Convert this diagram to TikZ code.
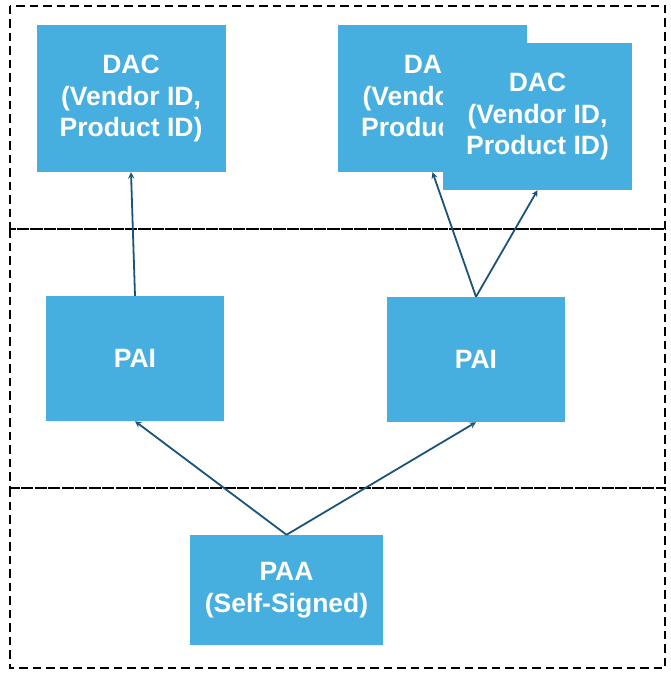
\documentclass[tikz,border=0pt]{standalone}
\usepackage{fontspec}
\setmainfont{Liberation Sans}
\usetikzlibrary{positioning, arrows}
\definecolor{certblue}{HTML}{47AFDF}
\definecolor{linkblue}{HTML}{1B5478}

\begin{document}
\begin{tikzpicture}[
        ->,
        >=stealth,
        x=1pt,
        y=-1pt,
        every node/.style={font=\fontsize{26.5}{31.5}\selectfont\bfseries, text=white, align=center},
        cert/.style={fill=certblue, inner sep=0pt, minimum width=189pt, minimum height=147pt},
        pai/.style={fill=certblue, inner sep=0pt, minimum width=178pt, minimum height=125pt},
        zone/.style={-, black, line width=1.8pt, dash pattern=on 8.5pt off 5pt},
        link/.style={linkblue, line width=1.8pt}
    ]
    \useasboundingbox (0,0) rectangle (670,677);

    % dashed zones
    \draw[zone] (10,6) rectangle (665,229);
    \draw[zone] (10,229) rectangle (665,488);
    \draw[zone] (10,488) rectangle (665,668);

    \node[cert] (dacL) at (131,98.5) {DAC\\(Vendor ID,\\Product ID)};
    \node[cert] (dacB) at (432.5,98.5) {DAC\\(Vendor ID,\\Product ID)};
    \node[cert] (dacF) at (537.5,116.5) {DAC\\(Vendor ID,\\Product ID)};

    \node[pai] (paiL) at (135,358.5) {PAI};
    \node[pai] (paiR) at (476,359.5) {PAI};

    \node[fill=certblue, inner sep=0pt, minimum width=193pt, minimum height=110pt] (paa) at (286.5,590) {PAA\\(Self-Signed)};

    \draw[link] (paiL.north) -- (dacL.south);
    \draw[link] (paiR.north) -- (dacB.south);
    \draw[link] (paiR.north) -- (dacF.south);
    \draw[link] (paa.north) -- (paiL.south);
    \draw[link] (paa.north) -- (paiR.south);
\end{tikzpicture}
\end{document}
